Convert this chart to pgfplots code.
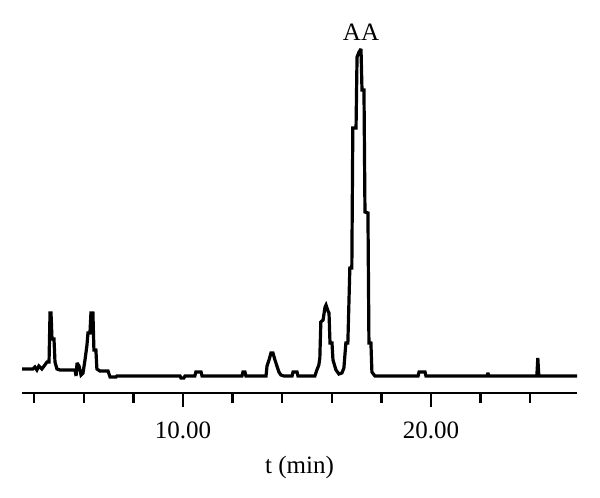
\documentclass[border=0pt]{standalone}
\usepackage{pgfplots}
\pgfplotsset{compat=1.18}
\usepackage{fontspec}
\setmainfont{Liberation Serif}
\begin{document}
\fontsize{12.5}{14}\selectfont
\begin{tikzpicture}
\begin{axis}[
  scale only axis,
  width=277.5pt, height=196.5pt,
  xmin=3.51, xmax=25.89, ymin=0, ymax=393,
  axis x line=bottom, axis y line=none,
  axis line style={line width=1.4pt, -},
  xtick={10,20}, xticklabels={10.00,20.00},
  minor xtick={4,6,8,12,14,16,18,22,24},
  tick align=outside,
  major tick length=7pt, minor tick length=5pt,
  every tick/.style={black, line width=1.2pt},
  xticklabel style={anchor=center, yshift=-11.5pt},
  /pgf/number format/assume math mode=true,
  xlabel={t (min)},
  xlabel style={at={(axis description cs:0.5,0)}, anchor=center, yshift=-37pt},
  clip=false,
]
\addplot[black, line width=1.6pt, line join=miter, miter limit=3] coordinates {
(3.51,24) (3.95,24) (4.03,26) (4.11,23) (4.19,27) (4.31,24) (4.40,27) (4.52,31) (4.60,31)
(4.64,80) (4.68,80) (4.72,54) (4.80,54) (4.84,31) (4.92,24) (5.04,23) (5.65,23)
(5.69,17) (5.73,30) (5.81,27) (5.89,18) (5.97,20) (6.05,33) (6.13,48) (6.17,60) (6.25,60)
(6.29,80) (6.37,80) (6.41,43) (6.49,43) (6.53,24) (6.65,22) (6.98,22) (7.06,16) (7.30,16)
(7.34,17) (9.88,17) (9.92,15) (10.04,15) (10.08,17) (10.48,17) (10.52,21) (10.73,21) (10.77,17)
(12.38,17) (12.42,21) (12.50,21) (12.54,17)
(13.35,17) (13.39,27) (13.47,33) (13.55,40) (13.63,40) (13.71,33) (13.79,27) (13.87,21) (13.95,18) (14.07,17)
(14.40,17) (14.44,21) (14.60,21) (14.64,17)
(15.32,17) (15.40,23) (15.48,28) (15.52,35) (15.56,71) (15.65,73) (15.73,86) (15.77,88) (15.85,82) (15.89,80)
(15.93,50) (16.01,50) (16.05,33) (16.17,23) (16.29,19) (16.41,20) (16.49,25) (16.57,50) (16.65,50)
(16.73,125) (16.81,125) (16.85,265) (16.98,265) (17.02,336) (17.10,341) (17.18,344)
(17.22,303) (17.30,303) (17.34,181) (17.46,180) (17.50,50) (17.58,50) (17.62,21) (17.74,17)
(19.48,17) (19.52,21) (19.76,21) (19.80,17)
(22.26,17) (22.30,20) (22.34,17)
(24.27,17) (24.31,35) (24.35,17) (25.89,17)
};
\node[anchor=center] at (axis cs:17.18,361) {AA};
\end{axis}
\pgfresetboundingbox
\path ([xshift=-11pt,yshift=-52.5pt]current axis.south west) rectangle ([xshift=11.5pt]current axis.north east);
\end{tikzpicture}
\end{document}
